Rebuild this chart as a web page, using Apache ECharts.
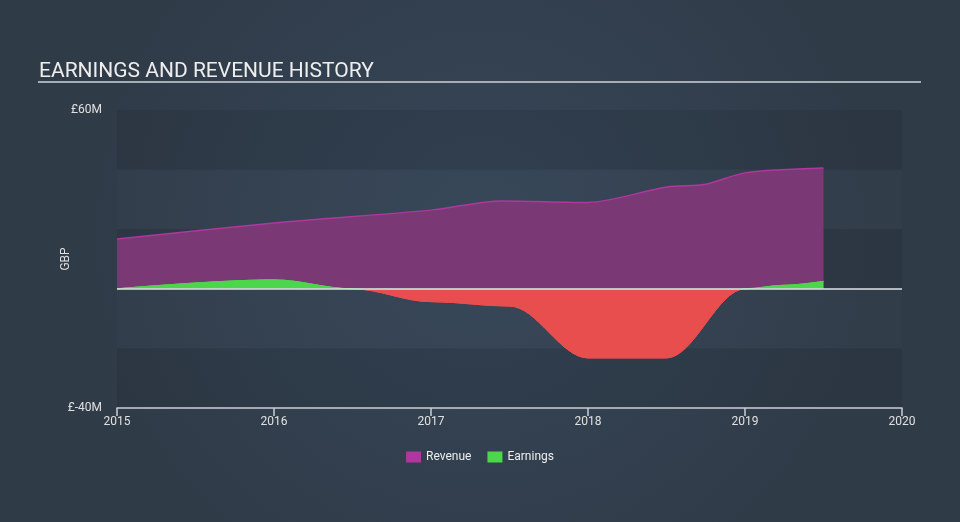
<!DOCTYPE html>
<html>
<head>
<meta charset="utf-8">
<script src="https://cdn.jsdelivr.net/npm/echarts@6/dist/echarts.min.js"></script>
<style>
html,body{margin:0;padding:0;background:#333f4e;}
#chart{width:960px;height:522px;}
</style>
</head>
<body>
<div id="chart"></div>
<script>
// Data (values in £M, x in fractional years)
const revenueX = [2015, 2016, 2017, 2017.45, 2018, 2018.5, 2018.75, 2019, 2019.5];
const revenueY = [16.7, 22.1, 26.4, 29.5, 29.0, 34.2, 35.1, 38.9, 40.5];
const earningsX = [2015, 2016, 2016.5, 2017, 2017.5, 2018, 2018.5, 2019, 2019.25, 2019.5];
const earningsY = [0, 3.0, 0, -4.3, -5.8, -23.2, -23.2, 0, 1.2, 2.5];
const yTickLabels = {"60": "£60M", "-40": "£-40M"};
const seriesNames = ["Revenue", "Earnings"];

const GREEN = '#4cd64c', RED = '#e94e4f', PURPLE_LINE = '#b0379f', PURPLE_FILL = '#7a3874';
const chart = echarts.init(document.getElementById('chart'), null, {renderer: 'canvas'});
const font = 'Roboto, "Noto Sans", sans-serif';

function splitGradient(yPix, H) {
  const f = Math.max(0, Math.min(1, yPix / H));
  return {
    type: 'linear', x: 0, y: 0, x2: 0, y2: H, global: true,
    colorStops: [
      {offset: 0, color: GREEN}, {offset: f, color: GREEN},
      {offset: f, color: RED}, {offset: 1, color: RED}
    ]
  };
}

const option = {
  backgroundColor: {
    type: 'radial', x: 0.5, y: 0.45, r: 0.75,
    colorStops: [{offset: 0, color: '#364658'}, {offset: 1, color: '#303b48'}]
  },
  animation: false,
  textStyle: {fontFamily: font},
  title: {
    text: 'EARNINGS AND REVENUE HISTORY',
    left: 34, top: 56,
    textStyle: {color: '#eeeeee', fontSize: 21, fontWeight: 'normal', fontFamily: font}
  },
  graphic: [{
    type: 'rect', shape: {x: 38, y: 81, width: 883, height: 2},
    style: {fill: '#a7adb5'}, silent: true
  }],
  legend: {
    data: [
      {name: seriesNames[0], itemStyle: {color: PURPLE_LINE}},
      {name: seriesNames[1], itemStyle: {color: GREEN}}
    ],
    top: 446, left: 'center',
    itemWidth: 15, itemHeight: 11, itemGap: 16,
    icon: 'rect',
    textStyle: {color: '#eeeeee', fontSize: 12, fontFamily: font}
  },
  grid: {left: 117, right: 58, top: 110, bottom: 114, containLabel: false},
  xAxis: {
    type: 'value', min: 2015, max: 2020, interval: 1,
    axisLine: {show: true, onZero: false, lineStyle: {color: '#c9ced4', width: 1.5}},
    axisTick: {show: true, length: 8, lineStyle: {color: '#c9ced4', width: 1.5}},
    axisLabel: {color: '#e0e0e0', fontSize: 12, margin: 8, formatter: v => String(v)},
    splitLine: {show: false}
  },
  yAxis: {
    type: 'value', min: -40, max: 60, interval: 20,
    name: 'GBP', nameLocation: 'middle', nameRotate: 90, nameGap: 45, nameMoveOverlap: false,
    nameTextStyle: {color: '#e0e0e0', fontSize: 12, fontFamily: font},
    axisLine: {show: false}, axisTick: {show: false},
    axisLabel: {
      color: '#e0e0e0', fontSize: 12, margin: 15,
      formatter: v => yTickLabels[String(v)] || ''
    },
    splitLine: {show: false},
    splitArea: {show: true, areaStyle: {color: ['rgba(20,28,38,0.14)', 'rgba(255,255,255,0.01)']}}
  },
  series: [
    {
      name: seriesNames[0], type: 'line',
      data: revenueX.map((x, i) => [x, revenueY[i]]),
      smooth: 0.3, showSymbol: false, symbol: 'none',
      lineStyle: {color: PURPLE_LINE, width: 1.5},
      itemStyle: {color: PURPLE_LINE},
      areaStyle: {color: PURPLE_FILL, opacity: 1},
      markLine: {
        silent: true, symbol: 'none', label: {show: false}, animation: false,
        lineStyle: {color: '#dfe3e8', width: 1.5, type: 'solid'},
        data: [{yAxis: 0}]
      },
      z: 2
    },
    {
      name: seriesNames[1], type: 'line',
      data: earningsX.map((x, i) => [x, earningsY[i]]),
      smooth: 0.35, smoothMonotone: 'x', showSymbol: false, symbol: 'none',
      lineStyle: {width: 1, color: GREEN},
      itemStyle: {color: GREEN},
      areaStyle: {opacity: 1, color: GREEN},
      z: 3
    }
  ]
};
chart.setOption(option);
const y0 = chart.convertToPixel({yAxisIndex: 0}, 0);
const H = chart.getHeight();
chart.setOption({
  series: [{}, {
    lineStyle: {color: splitGradient(y0, H)},
    areaStyle: {color: splitGradient(y0, H)}
  }]
});
</script>
</body>
</html>
